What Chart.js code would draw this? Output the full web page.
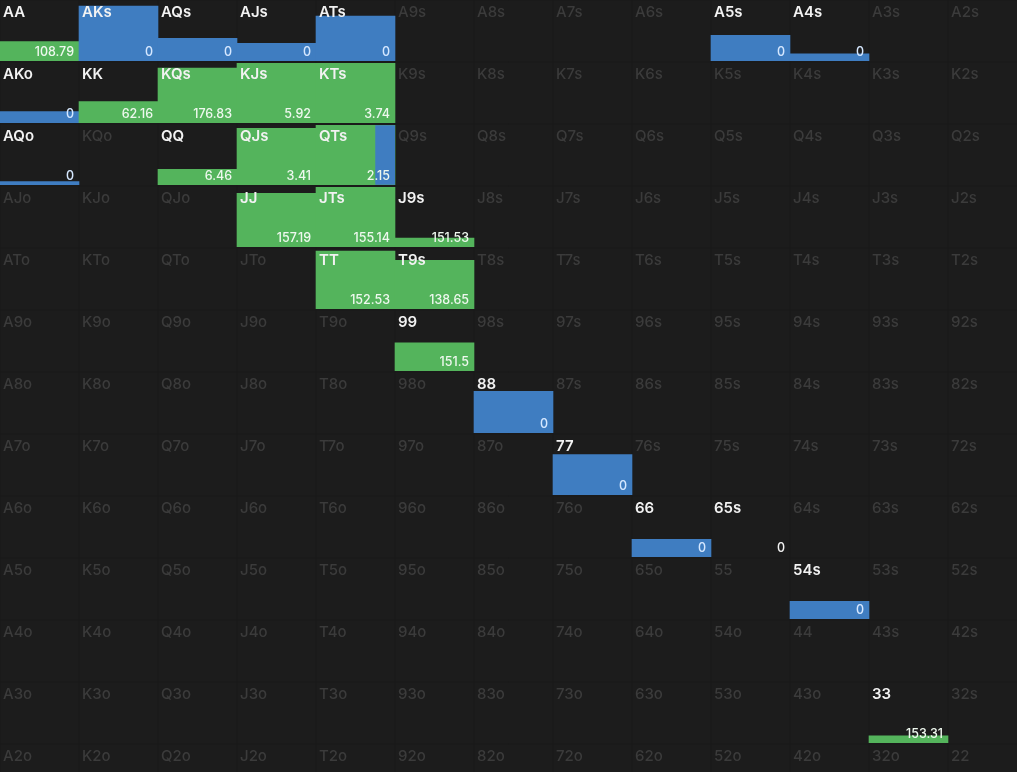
<!DOCTYPE html>
<html><head><meta charset="utf-8">
<script src="https://cdn.jsdelivr.net/npm/chart.js@4/dist/chart.umd.min.js"></script>
<style>html,body{margin:0;padding:0;background:#1c1c1c;overflow:hidden}</style>
</head><body>
<canvas id="c" width="1017" height="772"></canvas>
<script>
const ranks = ['A','K','Q','J','T','9','8','7','6','5','4','3','2'];
const activeHands = ['AA','AKs','AQs','AJs','ATs','A5s','A4s','AKo','KK','KQs','KJs','KTs','AQo','QQ','QJs','QTs','JJ','JTs','J9s','TT','T9s','99','88','77','66','65s','54s','33'];
const barHands  = ['AA','AKs','AQs','AJs','ATs','A5s','A4s','AKo','KK','KQs','KJs','KTs','AQo','QQ','QJs','QTs','JJ','JTs','J9s','TT','T9s','99','88','77','66','54s','33'];
const barKinds  = ['g','b','b','b','b','b','b','b','g','g','g','g','b','g','g','g','g','g','g','g','g','g','b','b','b','b','g'];
const barHeights= [0.33,0.9,0.38,0.3,0.74,0.43,0.13,0.2,0.36,0.9,0.98,0.98,0.07,0.27,0.93,0.98,0.88,0.98,0.16,0.95,0.8,0.47,0.69,0.67,0.3,0.3,0.13];
const splitHands = ['QTs'];
const splitShare = [0.25];
const valueHands = ['AA','AKs','AQs','AJs','ATs','A5s','A4s','AKo','KK','KQs','KJs','KTs','AQo','QQ','QJs','QTs','JJ','JTs','J9s','TT','T9s','99','88','77','66','65s','54s','33'];
const valueLabels= ['108.79','0','0','0','0','0','0','0','62.16','176.83','5.92','3.74','0','6.46','3.41','2.15','157.19','155.14','151.53','152.53','138.65','151.5','0','0','0','0','0','153.31'];
const valueKinds = ['g','b','b','b','b','b','b','b','g','g','g','g','b','g','g','g','g','g','g','g','g','g','b','b','b','w','b','g'];

const CW = 79, RH = 62;
function pos(h){
  const a = ranks.indexOf(h[0]), b = ranks.indexOf(h[1]);
  if (h.length===2) return {r:a,c:a};
  if (h[2]==='s') return {r:a,c:b};
  return {r:b,c:a};
}
const colors = {g:'#54b45c', b:'#3f7dc1'};
const pts = barHands.map((h,i)=>{const p=pos(h);return {x:p.c+0.5,y:[p.r+1-barHeights[i],p.r+1-0.02]};});

const gridPlugin = {
  id:'grid',
  beforeDatasetsDraw(chart){
    const {ctx} = chart, xs=chart.scales.x, ys=chart.scales.y;
    ctx.save();
    ctx.strokeStyle='#181818'; ctx.lineWidth=1;
    for(let i=0;i<=13;i++){const x=xs.getPixelForValue(i);ctx.beginPath();ctx.moveTo(x,0);ctx.lineTo(x,chart.height);ctx.stroke();}
    for(let i=0;i<=13;i++){const y=ys.getPixelForValue(i);ctx.beginPath();ctx.moveTo(0,y);ctx.lineTo(chart.width,y);ctx.stroke();}
    ctx.restore();
  },
  afterDatasetsDraw(chart){
    const {ctx} = chart, xs=chart.scales.x, ys=chart.scales.y;
    ctx.save();
    splitHands.forEach((h,i)=>{
      const p=pos(h), bi=barHands.indexOf(h);
      const x1=xs.getPixelForValue(p.c+1), x0=xs.getPixelForValue(p.c+1-splitShare[i]);
      const y0=ys.getPixelForValue(p.r+1-barHeights[bi]), y1=ys.getPixelForValue(p.r+1-0.02);
      ctx.fillStyle=colors.b; ctx.fillRect(x0,y0,x1-x0,y1-y0);
    });
    ctx.textBaseline='middle';
    for(let r=0;r<13;r++)for(let c=0;c<13;c++){
      let h = r===c? ranks[r]+ranks[c] : (c>r? ranks[r]+ranks[c]+'s' : ranks[c]+ranks[r]+'o');
      const act = activeHands.includes(h);
      ctx.font = act? '600 15px Inter, sans-serif' : '500 15px Inter, sans-serif';
      ctx.fillStyle = act? '#f2f2f2' : '#3b3b3b';
      ctx.textAlign='left';
      ctx.fillText(h, xs.getPixelForValue(c)+3, ys.getPixelForValue(r)+12);
    }
    ctx.font='500 12.5px Inter, sans-serif'; ctx.textAlign='right';
    valueHands.forEach((h,i)=>{
      const p=pos(h);
      ctx.fillStyle = valueKinds[i]==='b' ? '#d6e8ff' : (valueKinds[i]==='g' ? '#eef8ee' : '#f2f2f2');
      ctx.fillText(valueLabels[i], xs.getPixelForValue(p.c+1)-5, ys.getPixelForValue(p.r+1)-10);
    });
    ctx.restore();
  }
};

new Chart(document.getElementById('c'),{
  type:'bar',
  data:{datasets:[{data:pts,backgroundColor:barKinds.map(k=>colors[k]),borderWidth:0,barPercentage:1,categoryPercentage:1}]},
  options:{
    responsive:false,animation:false,
    layout:{padding:0},
    plugins:{legend:{display:false},tooltip:{enabled:false}},
    scales:{
      x:{type:'linear',offset:false,min:0,max:1017/CW,display:false},
      y:{type:'linear',min:0,max:772/RH,reverse:true,display:false}
    }
  },
  plugins:[gridPlugin]
});
</script>
</body></html>
